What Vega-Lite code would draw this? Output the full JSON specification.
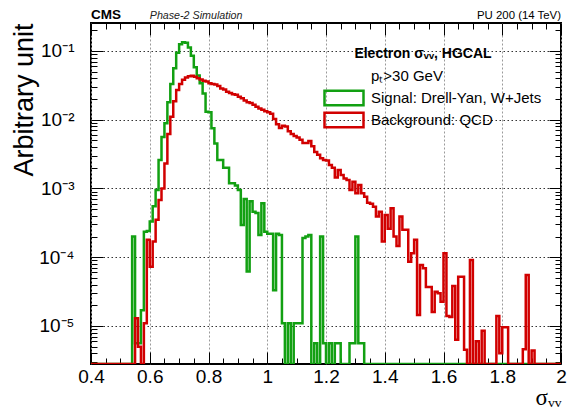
{
  "$schema": "https://vega.github.io/schema/vega-lite/v6.json",
  "width": 470,
  "height": 341,
  "autosize": {"type": "none"},
  "padding": {"left": 91, "top": 23, "right": 6, "bottom": 45},
  "background": "white",
  "config": {
    "view": {"stroke": "black", "strokeWidth": 2},
    "font": "Liberation Sans"
  },
  "datasets": {
    "hist": [
      {"sigma":0.40,"signal":2.8e-6,"background":2.8e-6},
      {"sigma":0.41,"signal":2.8e-6,"background":2.8e-6},
      {"sigma":0.42,"signal":2.8e-6,"background":2.8e-6},
      {"sigma":0.43,"signal":2.8e-6,"background":2.8e-6},
      {"sigma":0.44,"signal":2.8e-6,"background":2.8e-6},
      {"sigma":0.45,"signal":2.8e-6,"background":2.8e-6},
      {"sigma":0.46,"signal":2.8e-6,"background":2.8e-6},
      {"sigma":0.47,"signal":2.8e-6,"background":2.8e-6},
      {"sigma":0.48,"signal":2.8e-6,"background":2.8e-6},
      {"sigma":0.49,"signal":2.8e-6,"background":2.8e-6},
      {"sigma":0.50,"signal":2.8e-6,"background":2.8e-6},
      {"sigma":0.51,"signal":2.8e-6,"background":2.8e-6},
      {"sigma":0.52,"signal":2.8e-6,"background":2.8e-6},
      {"sigma":0.53,"signal":2.8e-6,"background":2.8e-6},
      {"sigma":0.54,"signal":2.0e-4,"background":2.8e-6},
      {"sigma":0.55,"signal":5.6e-6,"background":1.3e-5},
      {"sigma":0.56,"signal":5.6e-6,"background":5.0e-6},
      {"sigma":0.57,"signal":1.7e-5,"background":2.8e-6},
      {"sigma":0.58,"signal":2.35e-4,"background":1.1e-5},
      {"sigma":0.59,"signal":2.4e-4,"background":1.8e-4},
      {"sigma":0.60,"signal":3.3e-4,"background":7.3e-5},
      {"sigma":0.61,"signal":5.5e-4,"background":1.7e-4},
      {"sigma":0.62,"signal":9.5e-4,"background":3.5e-4},
      {"sigma":0.63,"signal":2.6e-3,"background":6.8e-4},
      {"sigma":0.64,"signal":5.6e-3,"background":1.0e-3},
      {"sigma":0.65,"signal":8.9e-3,"background":2.3e-3},
      {"sigma":0.66,"signal":1.8e-2,"background":6.2e-3},
      {"sigma":0.67,"signal":3.3e-2,"background":1.1e-2},
      {"sigma":0.68,"signal":5.6e-2,"background":1.85e-2},
      {"sigma":0.69,"signal":9.4e-2,"background":2.7e-2},
      {"sigma":0.70,"signal":0.125,"background":3.3e-2},
      {"sigma":0.71,"signal":0.134,"background":3.8e-2},
      {"sigma":0.72,"signal":0.132,"background":4.1e-2},
      {"sigma":0.73,"signal":0.112,"background":4.3e-2},
      {"sigma":0.74,"signal":0.085,"background":4.35e-2},
      {"sigma":0.75,"signal":0.058,"background":4.2e-2},
      {"sigma":0.76,"signal":0.044,"background":4.0e-2},
      {"sigma":0.77,"signal":0.034,"background":3.85e-2},
      {"sigma":0.78,"signal":0.024,"background":3.7e-2},
      {"sigma":0.79,"signal":0.0131,"background":3.6e-2},
      {"sigma":0.80,"signal":0.0128,"background":3.4e-2},
      {"sigma":0.81,"signal":0.0075,"background":3.3e-2},
      {"sigma":0.82,"signal":0.0045,"background":3.25e-2},
      {"sigma":0.83,"signal":0.0026,"background":3.1e-2},
      {"sigma":0.84,"signal":0.0026,"background":2.85e-2},
      {"sigma":0.85,"signal":0.0020,"background":2.75e-2},
      {"sigma":0.86,"signal":0.0020,"background":2.55e-2},
      {"sigma":0.87,"signal":0.00119,"background":2.45e-2},
      {"sigma":0.88,"signal":0.00119,"background":2.35e-2},
      {"sigma":0.89,"signal":0.00110,"background":2.3e-2},
      {"sigma":0.90,"signal":0.00095,"background":2.15e-2},
      {"sigma":0.91,"signal":2.94e-4,"background":2.05e-2},
      {"sigma":0.92,"signal":7.0e-4,"background":1.9e-2},
      {"sigma":0.93,"signal":6.2e-5,"background":1.8e-2},
      {"sigma":0.94,"signal":6.5e-4,"background":1.75e-2},
      {"sigma":0.95,"signal":4.6e-4,"background":1.65e-2},
      {"sigma":0.96,"signal":4.4e-4,"background":1.55e-2},
      {"sigma":0.97,"signal":2.1e-4,"background":1.45e-2},
      {"sigma":0.98,"signal":6.1e-4,"background":1.4e-2},
      {"sigma":0.99,"signal":2.35e-4,"background":1.33e-2},
      {"sigma":1.00,"signal":2.2e-4,"background":1.28e-2},
      {"sigma":1.01,"signal":2.2e-4,"background":1.22e-2},
      {"sigma":1.02,"signal":3.3e-5,"background":1.02e-2},
      {"sigma":1.03,"signal":2.2e-4,"background":8.6e-3},
      {"sigma":1.04,"signal":2.1e-4,"background":7.6e-3},
      {"sigma":1.05,"signal":1.1e-5,"background":8.2e-3},
      {"sigma":1.06,"signal":2.8e-6,"background":8.0e-3},
      {"sigma":1.07,"signal":1.1e-5,"background":6.8e-3},
      {"sigma":1.08,"signal":2.8e-6,"background":6.2e-3},
      {"sigma":1.09,"signal":1.1e-5,"background":5.8e-3},
      {"sigma":1.10,"signal":1.1e-5,"background":5.5e-3},
      {"sigma":1.11,"signal":1.1e-5,"background":5.1e-3},
      {"sigma":1.12,"signal":1.9e-4,"background":4.6e-3},
      {"sigma":1.13,"signal":2.0e-4,"background":4.6e-3},
      {"sigma":1.14,"signal":2.1e-4,"background":4.9e-3},
      {"sigma":1.15,"signal":2.8e-6,"background":4.1e-3},
      {"sigma":1.16,"signal":5.6e-6,"background":3.4e-3},
      {"sigma":1.17,"signal":2.8e-6,"background":3.1e-3},
      {"sigma":1.18,"signal":2.0e-4,"background":2.75e-3},
      {"sigma":1.19,"signal":5.6e-6,"background":2.6e-3},
      {"sigma":1.20,"signal":2.8e-6,"background":2.55e-3},
      {"sigma":1.21,"signal":5.6e-6,"background":2.2e-3},
      {"sigma":1.22,"signal":2.8e-6,"background":2.0e-3},
      {"sigma":1.23,"signal":5.6e-6,"background":1.45e-3},
      {"sigma":1.24,"signal":5.6e-6,"background":1.85e-3},
      {"sigma":1.25,"signal":2.8e-6,"background":1.57e-3},
      {"sigma":1.26,"signal":2.8e-6,"background":1.4e-3},
      {"sigma":1.27,"signal":2.8e-6,"background":1.33e-3},
      {"sigma":1.28,"signal":5.6e-6,"background":9.5e-4},
      {"sigma":1.29,"signal":5.6e-6,"background":1.25e-3},
      {"sigma":1.30,"signal":2.0e-4,"background":8.5e-4},
      {"sigma":1.31,"signal":5.6e-6,"background":1.12e-3},
      {"sigma":1.32,"signal":5.6e-6,"background":8.5e-4},
      {"sigma":1.33,"signal":2.8e-6,"background":7.6e-4},
      {"sigma":1.34,"signal":2.8e-6,"background":6.2e-4},
      {"sigma":1.35,"signal":2.8e-6,"background":6.0e-4},
      {"sigma":1.36,"signal":2.8e-6,"background":5.4e-4},
      {"sigma":1.37,"signal":2.8e-6,"background":3.9e-4},
      {"sigma":1.38,"signal":2.8e-6,"background":4.6e-4},
      {"sigma":1.39,"signal":2.8e-6,"background":1.7e-4},
      {"sigma":1.40,"signal":2.8e-6,"background":4.1e-4},
      {"sigma":1.41,"signal":2.8e-6,"background":2.6e-4},
      {"sigma":1.42,"signal":2.8e-6,"background":5.15e-4},
      {"sigma":1.43,"signal":2.8e-6,"background":2.0e-4},
      {"sigma":1.44,"signal":2.8e-6,"background":1.46e-4},
      {"sigma":1.45,"signal":2.8e-6,"background":3.9e-4},
      {"sigma":1.46,"signal":2.8e-6,"background":2.5e-4},
      {"sigma":1.47,"signal":2.8e-6,"background":2.5e-4},
      {"sigma":1.48,"signal":2.8e-6,"background":8.6e-5},
      {"sigma":1.49,"signal":2.8e-6,"background":1.14e-4},
      {"sigma":1.50,"signal":2.8e-6,"background":1.8e-4},
      {"sigma":1.51,"signal":2.8e-6,"background":1.44e-5},
      {"sigma":1.52,"signal":2.8e-6,"background":7.7e-5},
      {"sigma":1.53,"signal":2.8e-6,"background":6.9e-5},
      {"sigma":1.54,"signal":2.8e-6,"background":3.7e-5},
      {"sigma":1.55,"signal":2.8e-6,"background":3.7e-5},
      {"sigma":1.56,"signal":2.8e-6,"background":1.6e-5},
      {"sigma":1.57,"signal":2.8e-6,"background":3.16e-5},
      {"sigma":1.58,"signal":2.8e-6,"background":3.0e-5},
      {"sigma":1.59,"signal":2.8e-6,"background":2.26e-5},
      {"sigma":1.60,"signal":2.8e-6,"background":1.14e-4},
      {"sigma":1.61,"signal":2.8e-6,"background":1.4e-5},
      {"sigma":1.62,"signal":2.8e-6,"background":1.35e-5},
      {"sigma":1.63,"signal":2.8e-6,"background":3.8e-5},
      {"sigma":1.64,"signal":2.8e-6,"background":6.3e-6},
      {"sigma":1.65,"signal":2.8e-6,"background":5.2e-5},
      {"sigma":1.66,"signal":2.8e-6,"background":5.2e-5},
      {"sigma":1.67,"signal":2.8e-6,"background":4.5e-6},
      {"sigma":1.68,"signal":2.8e-6,"background":2.8e-6},
      {"sigma":1.69,"signal":2.8e-6,"background":9.1e-5},
      {"sigma":1.70,"signal":2.8e-6,"background":2.8e-6},
      {"sigma":1.71,"signal":2.8e-6,"background":6.0e-6},
      {"sigma":1.72,"signal":2.8e-6,"background":2.8e-6},
      {"sigma":1.73,"signal":2.8e-6,"background":8.5e-6},
      {"sigma":1.74,"signal":2.8e-6,"background":2.8e-6},
      {"sigma":1.75,"signal":2.8e-6,"background":2.8e-6},
      {"sigma":1.76,"signal":2.8e-6,"background":2.8e-6},
      {"sigma":1.77,"signal":2.8e-6,"background":2.8e-6},
      {"sigma":1.78,"signal":2.8e-6,"background":1.4e-5},
      {"sigma":1.79,"signal":2.8e-6,"background":4.0e-6},
      {"sigma":1.80,"signal":2.8e-6,"background":9.6e-6},
      {"sigma":1.81,"signal":2.8e-6,"background":9.6e-6},
      {"sigma":1.82,"signal":2.8e-6,"background":2.8e-6},
      {"sigma":1.83,"signal":2.8e-6,"background":2.8e-6},
      {"sigma":1.84,"signal":2.8e-6,"background":2.8e-6},
      {"sigma":1.85,"signal":2.8e-6,"background":2.8e-6},
      {"sigma":1.86,"signal":2.8e-6,"background":2.8e-6},
      {"sigma":1.87,"signal":2.8e-6,"background":4.6e-6},
      {"sigma":1.88,"signal":2.8e-6,"background":5.5e-5},
      {"sigma":1.89,"signal":2.8e-6,"background":2.8e-6},
      {"sigma":1.90,"signal":2.8e-6,"background":4.4e-6},
      {"sigma":1.91,"signal":2.8e-6,"background":2.8e-6},
      {"sigma":1.92,"signal":2.8e-6,"background":2.8e-6},
      {"sigma":1.93,"signal":2.8e-6,"background":2.8e-6},
      {"sigma":1.94,"signal":2.8e-6,"background":2.8e-6},
      {"sigma":1.95,"signal":2.8e-6,"background":2.8e-6},
      {"sigma":1.96,"signal":2.8e-6,"background":2.8e-6},
      {"sigma":1.97,"signal":2.8e-6,"background":2.8e-6},
      {"sigma":1.98,"signal":2.8e-6,"background":2.8e-6},
      {"sigma":1.99,"signal":2.8e-6,"background":2.8e-6},
      {"sigma":2.00,"signal":2.8e-6,"background":2.8e-6}
    ],
    "labels": [
      {"sigma": 0.4, "top": 0.255, "text": "CMS"}
    ]
  },
  "resolve": {"axis": {"x": "independent", "y": "independent"}},
  "layer": [
    {
      "data": {"name": "hist"},
      "transform": [{"fold": ["signal", "background"], "as": ["series", "value"]}],
      "mark": {"type": "line", "interpolate": "step-after", "strokeWidth": 2.5, "clip": true},
      "encoding": {
        "x": {
          "field": "sigma", "type": "quantitative",
          "scale": {"domain": [0.4, 2.0], "nice": false, "zero": false},
          "axis": {
            "orient": "bottom",
            "values": [0.4,0.45,0.5,0.55,0.6,0.65,0.7,0.75,0.8,0.85,0.9,0.95,1,1.05,1.1,1.15,1.2,1.25,1.3,1.35,1.4,1.45,1.5,1.55,1.6,1.65,1.7,1.75,1.8,1.85,1.9,1.95,2],
            "domain": false,
            "tickColor": "black",
            "tickWidth": 1,
            "tickSize": {"condition": {"test": "abs(datum.value*5 - round(datum.value*5)) < 0.001", "value": -12}, "value": -6},
            "labelExpr": "abs(datum.value*5 - round(datum.value*5)) < 0.001 ? format(datum.value, '~g') : ''",
            "labelFont": "Liberation Sans",
            "labelFontSize": 19,
            "labelColor": "black",
            "labelPadding": 15,
            "labelFlush": false,
            "labelOverlap": false,
            "labelBound": false,
            "grid": true,
            "gridColor": "#9a9a9a",
            "gridDash": [2, 2],
            "gridWidth": 1,
            "gridOpacity": {"condition": {"test": "abs(datum.value*5 - round(datum.value*5)) < 0.001", "value": 1}, "value": 0},
            "title": "σᵥᵥ",
            "titleFont": "Liberation Serif",
            "titleFontSize": 23,
            "titleFontWeight": "normal",
            "titleColor": "black",
            "titleAnchor": "end",
            "titleBaseline": "alphabetic",
            "titleY": 40
          }
        },
        "y": {
          "field": "value", "type": "quantitative",
          "scale": {"type": "log", "domain": [2.8e-6, 0.255], "nice": false},
          "axis": {
            "orient": "left",
            "values": [3e-6,4e-6,5e-6,6e-6,7e-6,8e-6,9e-6,1e-5,2e-5,3e-5,4e-5,5e-5,6e-5,7e-5,8e-5,9e-5,1e-4,2e-4,3e-4,4e-4,5e-4,6e-4,7e-4,8e-4,9e-4,1e-3,2e-3,3e-3,4e-3,5e-3,6e-3,7e-3,8e-3,9e-3,0.01,0.02,0.03,0.04,0.05,0.06,0.07,0.08,0.09,0.1,0.2],
            "domain": false,
            "tickColor": "black",
            "tickWidth": 1,
            "tickSize": {"condition": {"test": "abs(log(datum.value)/LN10 - round(log(datum.value)/LN10)) < 0.001", "value": -12}, "value": -6},
            "labelExpr": "abs(log(datum.value)/LN10 - round(log(datum.value)/LN10)) > 0.001 ? '' : (round(log(datum.value)/LN10) == -1 ? '10⁻¹' : round(log(datum.value)/LN10) == -2 ? '10⁻²' : round(log(datum.value)/LN10) == -3 ? '10⁻³' : round(log(datum.value)/LN10) == -4 ? '10⁻⁴' : round(log(datum.value)/LN10) == -5 ? '10⁻⁵' : '')",
            "labelFont": "Liberation Sans",
            "labelFontSize": 19,
            "labelColor": "black",
            "labelPadding": 29,
            "labelFlush": false,
            "labelOverlap": false,
            "labelBound": false,
            "grid": true,
            "gridColor": "#333333",
            "gridDash": [1.5, 2.5],
            "gridWidth": 1,
            "gridOpacity": {"condition": {"test": "abs(log(datum.value)/LN10 - round(log(datum.value)/LN10)) < 0.001", "value": 1}, "value": 0},
            "title": "Arbitrary unit",
            "titleFont": "Liberation Sans",
            "titleFontSize": 27,
            "titleFontWeight": "normal",
            "titleColor": "black",
            "titleAnchor": "end",
            "titlePadding": 0
          }
        },
        "color": {
          "field": "series", "type": "nominal",
          "scale": {"domain": ["pt", "signal", "background"], "range": ["transparent", "#12a012", "#d10000"]},
          "legend": {
            "orient": "none",
            "legendX": 213,
            "legendY": 24,
            "padding": 0,
            "title": "Electron σᵥᵥ, HGCAL",
            "titleFont": "Liberation Sans",
            "titleFontSize": 14,
            "titleFontWeight": "bold",
            "titleColor": "black",
            "titleAnchor": "middle",
            "titlePadding": 6,
            "labelFont": "Liberation Sans",
            "labelFontSize": 15,
            "labelColor": "black",
            "labelLimit": 400,
            "labelOffset": 49,
            "labelExpr": "datum.value == 'pt' ? 'pₜ>30 GeV' : datum.value == 'signal' ? 'Signal: Drell-Yan, W+Jets' : 'Background: QCD'",
            "symbolType": "M1.533,-0.98H6.733V0.98H1.533Z",
            "symbolSize": 225,
            "symbolStrokeWidth": 2.5,
            "symbolFillColor": "transparent",
            "rowPadding": -5
          }
        }
      }
    },
    {
      "data": {"name": "labels"},
      "mark": {"type": "text", "font": "Liberation Sans", "fontWeight": "bold", "fontSize": 13.5, "align": "left", "baseline": "alphabetic", "dy": -4, "color": "black"},
      "encoding": {
        "text": {"field": "text"},
        "x": {
          "field": "sigma", "type": "quantitative",
          "scale": {"domain": [0.4, 2.0], "nice": false, "zero": false},
          "axis": {
            "orient": "top",
            "values": [0.4,0.45,0.5,0.55,0.6,0.65,0.7,0.75,0.8,0.85,0.9,0.95,1,1.05,1.1,1.15,1.2,1.25,1.3,1.35,1.4,1.45,1.5,1.55,1.6,1.65,1.7,1.75,1.8,1.85,1.9,1.95,2],
            "domain": false, "labels": false, "grid": false, "title": null,
            "tickColor": "black", "tickWidth": 1,
            "tickSize": {"condition": {"test": "abs(datum.value*5 - round(datum.value*5)) < 0.001", "value": -12}, "value": -6}
          }
        },
        "y": {
          "field": "top", "type": "quantitative",
          "scale": {"type": "log", "domain": [2.8e-6, 0.255], "nice": false},
          "axis": {
            "orient": "right",
            "values": [3e-6,4e-6,5e-6,6e-6,7e-6,8e-6,9e-6,1e-5,2e-5,3e-5,4e-5,5e-5,6e-5,7e-5,8e-5,9e-5,1e-4,2e-4,3e-4,4e-4,5e-4,6e-4,7e-4,8e-4,9e-4,1e-3,2e-3,3e-3,4e-3,5e-3,6e-3,7e-3,8e-3,9e-3,0.01,0.02,0.03,0.04,0.05,0.06,0.07,0.08,0.09,0.1,0.2],
            "domain": false, "labels": false, "grid": false, "title": null,
            "tickColor": "black", "tickWidth": 1,
            "tickSize": {"condition": {"test": "abs(log(datum.value)/LN10 - round(log(datum.value)/LN10)) < 0.001", "value": -12}, "value": -6}
          }
        }
      }
    },
    {
      "data": {"values": [{"sigma": 0.6, "top": 0.255, "text": "Phase-2 Simulation"}]},
      "mark": {"type": "text", "font": "Liberation Sans", "fontStyle": "italic", "fontSize": 10.7, "align": "left", "baseline": "alphabetic", "dy": -4, "color": "#222222"},
      "encoding": {
        "text": {"field": "text"},
        "x": {"field": "sigma", "type": "quantitative", "axis": null},
        "y": {"field": "top", "type": "quantitative", "axis": null}
      }
    },
    {
      "data": {"values": [{"sigma": 2.0, "top": 0.255, "text": "PU 200 (14 TeV)"}]},
      "mark": {"type": "text", "font": "Liberation Sans", "fontSize": 11.4, "align": "right", "baseline": "alphabetic", "dy": -4, "color": "black"},
      "encoding": {
        "text": {"field": "text"},
        "x": {"field": "sigma", "type": "quantitative", "axis": null},
        "y": {"field": "top", "type": "quantitative", "axis": null}
      }
    }
  ]
}
